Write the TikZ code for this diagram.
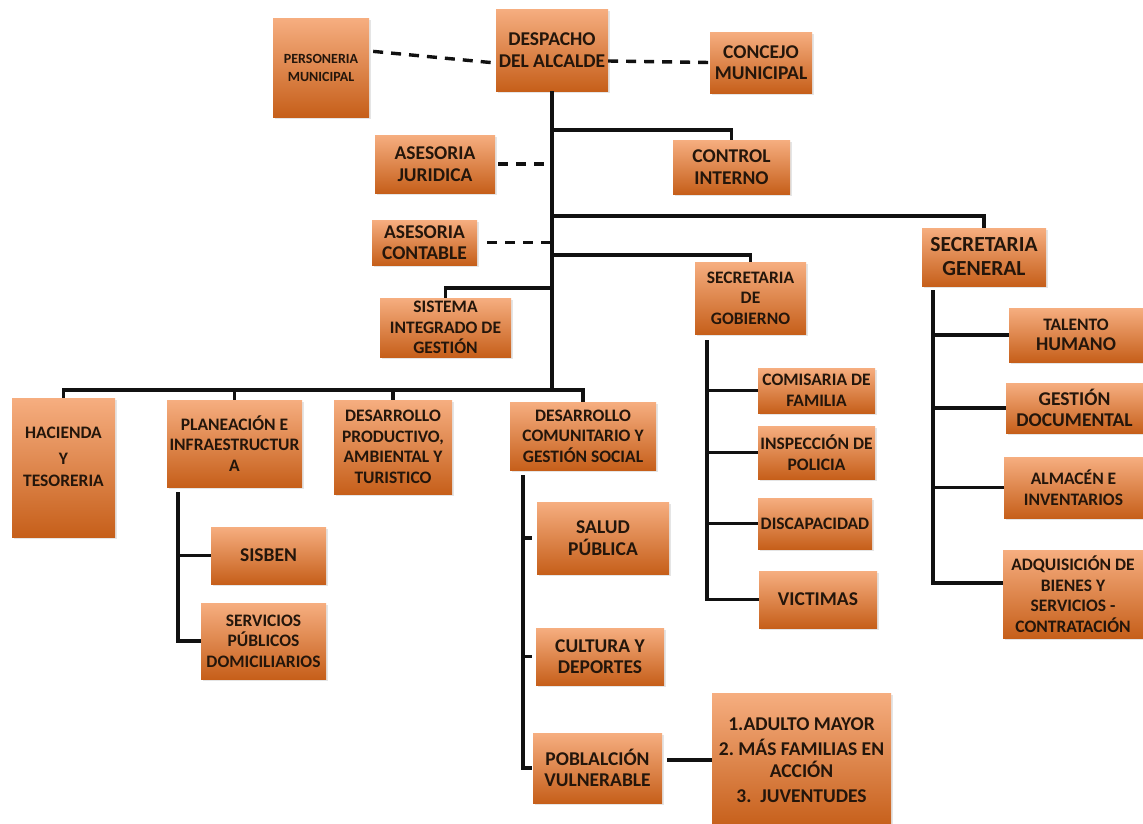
\documentclass[tikz,border=0pt]{standalone}
\usepackage{fontspec}
\setmainfont{Carlito}
\usepackage{tikz}
\usetikzlibrary{shadows}
\definecolor{boxtop}{HTML}{F6AE80}
\definecolor{boxbot}{HTML}{C65F1A}
\definecolor{ink}{HTML}{24160B}
\definecolor{wire}{HTML}{111111}
\tikzset{
  every picture/.style={line join=miter, line cap=butt},
  unit/.style 2 args={top color=boxtop, bottom color=boxbot, draw=none, text=ink,
    align=center, inner sep=1pt, minimum width=#1, minimum height=#2,
    drop shadow={shadow xshift=1.5pt, shadow yshift=-1.5pt, opacity=0.2}},
  fS/.style={font=\fontsize{14}{18}\selectfont\bfseries},
  fM/.style={font=\fontsize{17.5}{20.5}\selectfont\bfseries},
  fL/.style={font=\fontsize{19.5}{21.5}\selectfont\bfseries},
  fXL/.style={font=\fontsize{21.5}{24}\selectfont\bfseries},
  link/.style={draw=wire, line width=3.4pt},
  trunk/.style={draw=wire, line width=4.4pt},
  dashl/.style={draw=wire, line width=3.4pt, dash pattern=on 10pt off 8pt},
}

\begin{document}
\begin{tikzpicture}[x=1pt,y=-1pt]
\fill[white] (0,0) rectangle (1143,823);
\useasboundingbox (0,0) rectangle (1143,823);

\node[unit={96pt}{99pt},fS] (pers) at (321,67.5) {PERSONERIA\\MUNICIPAL};
\node[unit={112pt}{82pt},fL] (desp) at (552,50) {DESPACHO\\DEL ALCALDE};
\node[unit={102pt}{61pt},fL] (conc) at (761,62.5) {CONCEJO\\MUNICIPAL};
\node[unit={120pt}{58pt},fL] (jur) at (435,164) {ASESORIA\\JURIDICA};
\node[unit={117pt}{54pt},fL] (ctrl) at (731.5,167) {CONTROL\\INTERNO};
\node[unit={105pt}{45pt},fL] (cont) at (424.5,242.5) {ASESORIA\\CONTABLE};
\node[unit={124pt}{58pt},fXL] (sgen) at (984,257) {SECRETARIA\\GENERAL};
\node[unit={111pt}{72pt},fM] (sgob) at (750.5,298) {SECRETARIA\\DE\\GOBIERNO};
\node[unit={131pt}{59pt},fM] (sig) at (445.5,327.5) {SISTEMA\\INTEGRADO DE\\GESTIÓN};

\node[unit={103pt}{139pt},fM] (hac) at (63.5,467.5) {HACIENDA\\[5pt]Y\\[2pt]TESORERIA\\[-6pt]\strut};
\node[unit={135pt}{87pt},fM] (plan) at (234.5,443.5) {PLANEACIÓN E\\INFRAESTRUCTUR\\A};
\node[unit={118pt}{94pt},fM] (prod) at (393,447) {DESARROLLO\\PRODUCTIVO,\\AMBIENTAL Y\\TURISTICO};
\node[unit={146pt}{68pt},fM] (comu) at (583,436) {DESARROLLO\\COMUNITARIO Y\\GESTIÓN SOCIAL};
\node[unit={115pt}{57pt},fL] (sisb) at (268.5,555.5) {SISBEN};
\node[unit={125pt}{76pt},fM] (serv) at (263.5,641) {SERVICIOS\\PÚBLICOS\\DOMICILIARIOS};

\node[unit={132pt}{72pt},fL] (salud) at (603,538) {SALUD\\PÚBLICA};
\node[unit={128pt}{57pt},fL] (cult) at (600,656.5) {CULTURA Y\\DEPORTES};
\node[unit={129pt}{70pt},fL] (pobl) at (597.5,768) {POBLALCIÓN\\VULNERABLE};
\node[unit={179pt}{134pt},fL] (prog) at (801.5,760) {1.ADULTO MAYOR\\[4pt]2.\ MÁS FAMILIAS EN\\ACCIÓN\\[4pt]3.\ \ JUVENTUDES};

\node[unit={117pt}{45pt},fM] (comi) at (816.5,390.5) {COMISARIA DE\\FAMILIA};
\node[unit={117pt}{53pt},fM] (insp) at (816.5,452.5) {INSPECCIÓN DE\\POLICIA};
\node[unit={114pt}{51pt},fM] (disc) at (815,523.5) {DISCAPACIDAD};
\node[unit={118pt}{57pt},fL] (vict) at (818,599.5) {VICTIMAS};

\node[unit={134pt}{54pt},fM] (tal) at (1076,335) {TALENTO\\{\fontsize{19.5}{21.5}\selectfont HUMANO}};
\node[unit={137pt}{50pt},fL] (gdoc) at (1074.5,408) {GESTIÓN\\DOCUMENTAL};
\node[unit={139pt}{61pt},fM] (alm) at (1073.5,487.5) {ALMACÉN E\\INVENTARIOS};
\node[unit={140pt}{88pt},fM] (adq) at (1073,594) {ADQUISICIÓN DE\\BIENES Y\\SERVICIOS -\\CONTRATACIÓN};

\coordinate (foot) at (desp.south |- 0,390);
\coordinate (pl) at ([xshift=11pt,yshift=-5pt]plan.south west);
\coordinate (cm) at ([xshift=13pt,yshift=-5pt]comu.south west);
\coordinate (gb) at ([xshift=12pt,yshift=-6pt]sgob.south west);
\coordinate (gn) at ([xshift=11pt,yshift=-4pt]sgen.south west);

\draw[dashl,shorten <=4pt] ([yshift=16.5pt]pers.east) -- ([yshift=-13pt]desp.west);
\draw[dashl] ([yshift=-11pt]desp.east) -- (conc.west);
\draw[trunk] (desp.south) -- (foot);
\draw[link] (desp.south |- 0,130) -| (ctrl.north);
\draw[dashl,shorten <=3pt] (jur.east) -- (jur.east -| desp.south);
\draw[link] (desp.south |- 0,216) -| (sgen.north);
\draw[dashl,shorten <=10pt] (cont.east) -- (cont.east -| desp.south);
\draw[link] (desp.south |- 0,255) -| (sgob.north);
\draw[link] (desp.south |- 0,288) -| (sig.north);

\draw[link] (hac.north) |- (foot) -| (comu.north);
\draw[link] (foot -| plan.north) -- (plan.north);
\draw[link] (foot -| prod.north) -- (prod.north);

\draw[link] (pl) |- (serv.west);
\draw[link] (pl |- sisb.west) -- (sisb.west);

\draw[link] (cm) -- (cm |- pobl.west) -- ++(9,0);
\draw[link] (cm |- salud.west) -- ++(9,0);
\draw[link] (cm |- cult.west) -- ++(9,0);
\draw[link] (prog.west) -- ++(-45,0);

\draw[link] (gb) |- (vict.west);
\draw[link] (gb |- comi.west) -- (comi.west);
\draw[link] (gb |- insp.west) -- (insp.west);
\draw[link] (gb |- disc.west) -- (disc.west);

\draw[link] (gn) |- ([yshift=11pt]adq.west);
\draw[link] (gn |- tal.west) -- (tal.west);
\draw[link] (gn |- gdoc.west) -- (gdoc.west);
\draw[link] (gn |- alm.west) -- (alm.west);
\end{tikzpicture}
\end{document}
